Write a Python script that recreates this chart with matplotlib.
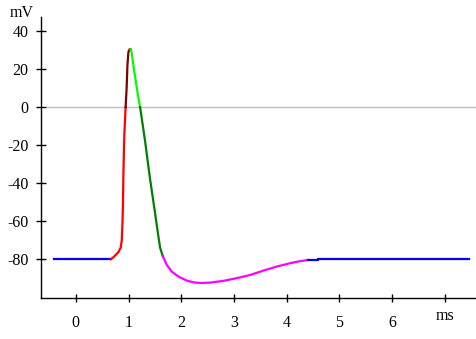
import matplotlib
matplotlib.use("Agg")
import matplotlib.pyplot as plt
import matplotlib.transforms as mtransforms

matplotlib.rcParams.update({
    'font.family': 'serif',
    'font.serif': ['Liberation Serif', 'DejaVu Serif'],
    'font.size': 11.5,
    'axes.unicode_minus': False,
})

# Action potential, split into phases (time in ms, membrane potential in mV)
rest_t = [-0.41, 0.664]
rest_v = [-80.0, -80.0]

depol_t = [0.664, 0.713, 0.765, 0.808, 0.85, 0.873, 0.884, 0.894, 0.903, 0.922, 0.945]
depol_v = [-80.0, -79.0, -77.5, -76.3, -74.0, -70.0, -62.0, -52.0, -35.0, -13.5, 0.0]

overshoot_t = [0.945, 0.964, 0.979, 0.998, 1.02, 1.04]
overshoot_v = [0.0, 10.0, 22.0, 29.0, 30.5, 30.3]

repol_top_t = [1.04, 1.06, 1.087, 1.125, 1.163, 1.2, 1.22]
repol_top_v = [30.3, 29.0, 23.0, 16.0, 9.0, 3.0, 0.0]

repol_t = [1.22, 1.31, 1.41, 1.5, 1.567, 1.6, 1.65]
repol_v = [0.0, -17.0, -38.0, -55.0, -68.0, -74.0, -78.3]

hyper_t = [1.65, 1.727, 1.82, 1.95, 2.11, 2.26, 2.4, 2.55, 2.8, 3.05, 3.31,
           3.56, 3.81, 4.07, 4.26, 4.41]
hyper_v = [-78.3, -83.0, -86.5, -89.2, -91.3, -92.3, -92.5, -92.3, -91.4, -90.0, -88.3,
           -86.0, -83.9, -82.1, -81.0, -80.4]

recovery_t = [4.41, 4.6, 4.6, 7.46]
recovery_v = [-80.4, -80.4, -80.0, -80.0]

x_ticks = [0, 1, 2, 3, 4, 5, 6, 7]
x_labels = ['0', '1', '2', '3', '4', '5', '6', '']
y_ticks = [-80, -60, -40, -20, 0, 20, 40]

fig = plt.figure(figsize=(4.77, 3.39), dpi=100)
ax = fig.add_axes([0.085, 0.121, 0.915, 0.829])

lw = 1.6
ax.axhline(0, xmin=(-0.545 + 0.67) / 8.285, xmax=1, color='#c0c0c0', linewidth=1.0, zorder=1)
ax.plot(rest_t, rest_v, color='#0000ff', linewidth=lw)
ax.plot(depol_t, depol_v, color='#ff0000', linewidth=lw)
ax.plot(overshoot_t, overshoot_v, color='#800000', linewidth=lw)
ax.plot(repol_top_t, repol_top_v, color='#00ff00', linewidth=lw)
ax.plot(repol_t, repol_v, color='#008000', linewidth=lw)
ax.plot(hyper_t, hyper_v, color='#ff00ff', linewidth=lw)
ax.plot(recovery_t, recovery_v, color='#0000ff', linewidth=lw)

ax.set_xlim(-0.67, 7.615)
ax.set_ylim(-100.4, 47.5)

ax.spines['top'].set_visible(False)
ax.spines['right'].set_visible(False)
for side in ('left', 'bottom'):
    ax.spines[side].set_linewidth(1.0)
    ax.spines[side].set_color('black')

ax.set_xticks(x_ticks)
ax.set_xticklabels(x_labels)
ax.set_yticks(y_ticks)
ax.tick_params(axis='x', direction='inout', length=6, width=1, pad=9)
ax.tick_params(axis='y', direction='inout', length=7, width=1, pad=5)

# unit labels
trans = mtransforms.blended_transform_factory(ax.transData, fig.transFigure)
ax.text(7.0, 1 - 316 / 339, 'ms', transform=trans, ha='center', va='center')
fig.text(22 / 477, 1 - 13 / 339, 'mV', ha='center', va='center')

fig.savefig('out.png', dpi=100)
